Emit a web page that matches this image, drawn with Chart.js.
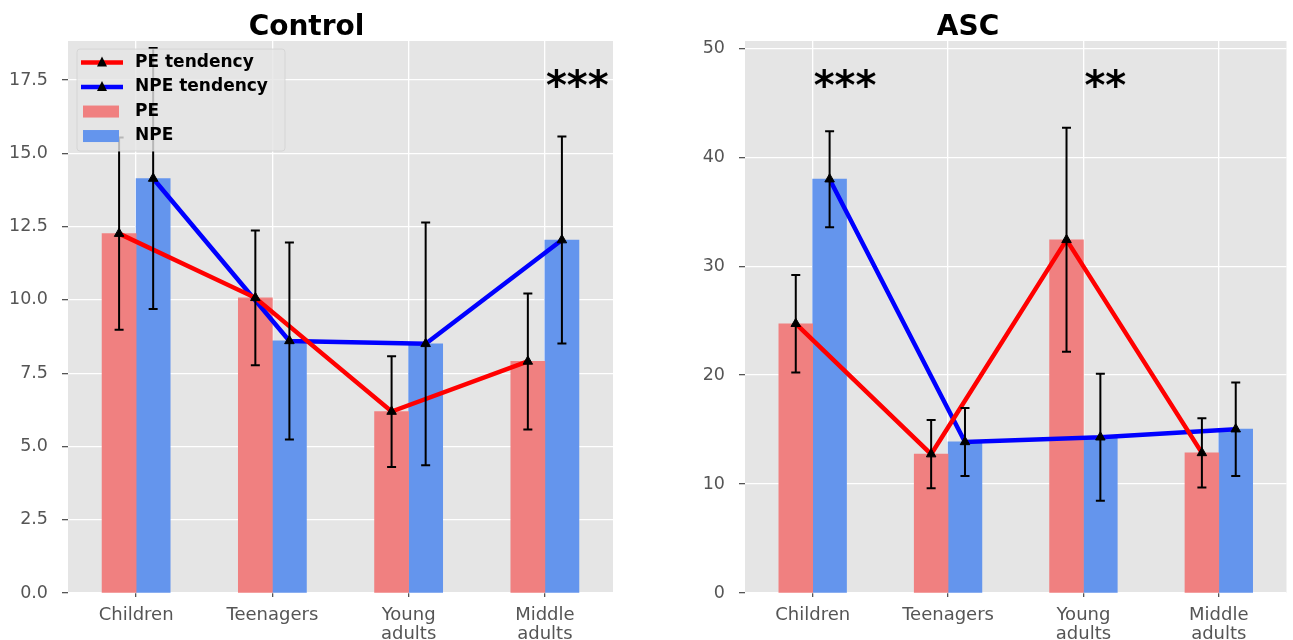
<!DOCTYPE html>
<html>
<head>
<meta charset="utf-8">
<script src="https://cdn.jsdelivr.net/npm/chart.js@4.4.1/dist/chart.umd.min.js"></script>
<style>
    body { margin: 0; background: #fff; }
    #wrap { position: relative; width: 1293px; height: 640px; }
    .box { position: absolute; top: 0; height: 640px; }
</style>
</head>
<body>
<div id="wrap">
    <div class="box" style="left:0;width:646px"><canvas id="controlChart"></canvas></div>
    <div class="box" style="left:646px;width:647px"><canvas id="ascChart"></canvas></div>
</div>
<script>
'use strict';
// =============== data ===============
const groups = ['Children', 'Teenagers', ['Young', 'adults'], ['Middle', 'adults']];

const controlPE = [12.26, 10.07, 6.19, 7.9];
const controlPEErr = [3.28, 2.3, 1.89, 2.32];
const controlNPE = [14.14, 8.6, 8.5, 12.04];
const controlNPEErr = [4.45, 3.36, 4.14, 3.53];

const ascPE = [24.72, 12.75, 32.42, 12.86];
const ascPEErr = [4.48, 3.14, 10.28, 3.18];
const ascNPE = [37.99, 13.87, 14.3, 15.04];
const ascNPEErr = [4.41, 3.12, 5.82, 4.29];

const controlStarGroups = [3];
const controlStarValues = [17.5];
const controlStarTexts = ['***'];
const ascStarGroups = [0, 2];
const ascStarValues = [47.1, 47.1];
const ascStarTexts = ['***', '**'];

Chart.defaults.font.family = 'DejaVu Sans';
Chart.defaults.font.size = 18;
Chart.defaults.color = '#555';

// =============== plugins ===============
const panelBg = {
    id: 'panelBg',
    beforeDraw(chart) {
        const a = chart.chartArea, ctx = chart.ctx;
        ctx.save();
        ctx.fillStyle = '#E5E5E5';
        ctx.fillRect(a.left, a.top, a.right - a.left, a.bottom - a.top);
        ctx.restore();
    }
};

const errorBars = {
    id: 'errorBars',
    afterDatasetsDraw(chart) {
        const ctx = chart.ctx, y = chart.scales.y;
        ctx.save();
        ctx.strokeStyle = '#000';
        ctx.lineWidth = 2;
        chart.data.datasets.forEach((ds, i) => {
            if (!ds.errors) return;
            chart.getDatasetMeta(i).data.forEach((pt, k) => {
                const v = ds.data[k].y, e = ds.errors[k];
                const top = y.getPixelForValue(v + e), bot = y.getPixelForValue(v - e);
                ctx.beginPath();
                ctx.moveTo(pt.x, top); ctx.lineTo(pt.x, bot);
                ctx.moveTo(pt.x - 4.5, top); ctx.lineTo(pt.x + 4.5, top);
                ctx.moveTo(pt.x - 4.5, bot); ctx.lineTo(pt.x + 4.5, bot);
                ctx.stroke();
            });
        });
        ctx.restore();
    }
};

const stars = {
    id: 'stars',
    afterDraw(chart, args, opts) {
        const ctx = chart.ctx;
        ctx.save();
        ctx.fillStyle = '#000';
        ctx.font = 'bold 40px "DejaVu Sans"';
        ctx.textAlign = 'left';
        ctx.textBaseline = 'alphabetic';
        opts.groups.forEach((g, k) => {
            const px = chart.scales.x.getPixelForValue(g);
            const py = chart.scales.y.getPixelForValue(opts.values[k]);
            ctx.fillText(opts.texts[k], px + 1, py + 19);
        });
        ctx.restore();
    }
};

const boxLegend = {
    id: 'boxLegend',
    afterDraw(chart, args, opts) {
        if (!opts.show) return;
        const ctx = chart.ctx, a = chart.chartArea;
        const x0 = a.left + 9, y0 = a.top + 8, w = 208, h = 102;
        ctx.save();
        ctx.beginPath();
        ctx.roundRect(x0, y0, w, h, 3);
        ctx.fillStyle = 'rgba(229,229,229,0.8)';
        ctx.fill();
        ctx.strokeStyle = 'rgba(210,210,210,0.8)';
        ctx.lineWidth = 1;
        ctx.stroke();

        const ds = chart.data.datasets;
        const items = [ds[2], ds[3], ds[0], ds[1]];
        ctx.font = 'bold 17px "DejaVu Sans"';
        ctx.textBaseline = 'middle';
        items.forEach((d, k) => {
            const cy = y0 + 13.5 + k * 24.5;
            if (d.type === 'line') {
                ctx.strokeStyle = d.borderColor;
                ctx.lineWidth = 4.5;
                ctx.beginPath();
                ctx.moveTo(x0 + 4, cy); ctx.lineTo(x0 + 46, cy);
                ctx.stroke();
                ctx.fillStyle = '#000';
                ctx.beginPath();
                ctx.moveTo(x0 + 25, cy - 6);
                ctx.lineTo(x0 + 30, cy + 4);
                ctx.lineTo(x0 + 20, cy + 4);
                ctx.closePath();
                ctx.fill();
            } else {
                ctx.fillStyle = d.backgroundColor;
                ctx.fillRect(x0 + 6, cy - 6, 36, 12);
            }
            ctx.fillStyle = '#000';
            ctx.fillText(d.label, x0 + 58, cy);
        });
        ctx.restore();
    }
};

// =============== chart builder ===============
function makeChart(id, title, pe, peErr, npe, npeErr, yMax, yStep, yWidth, padRight, starOpts, showLegend) {
    const half = 0.125; // half of one bar, in group units
    const at = (vals, shift) => vals.map((v, i) => ({ x: i + shift, y: v }));
    const lineStyle = {
        type: 'line', borderWidth: 4.5, tension: 0,
        pointStyle: 'triangle', pointRadius: 5.5,
        pointBackgroundColor: '#000', pointBorderColor: '#000', pointBorderWidth: 1
    };
    return new Chart(document.getElementById(id), {
        type: 'bar',
        data: {
            datasets: [
                { type: 'bar', label: 'PE', data: at(pe, -half), backgroundColor: '#F08080', borderWidth: 0, order: 3 },
                { type: 'bar', label: 'NPE', data: at(npe, half), backgroundColor: '#6495ED', borderWidth: 0, order: 3 },
                Object.assign({ label: 'PE tendency', data: at(pe, -half), errors: peErr, borderColor: '#FF0000', order: 1 }, lineStyle),
                Object.assign({ label: 'NPE tendency', data: at(npe, half), errors: npeErr, borderColor: '#0000FF', order: 2 }, lineStyle)
            ]
        },
        options: {
            responsive: true,
            maintainAspectRatio: false,
            animation: false,
            layout: { padding: { left: 0, right: padRight, top: 0, bottom: 0 } },
            datasets: { bar: { grouped: false, categoryPercentage: 1.0, barPercentage: 1.0 } },
            plugins: {
                legend: { display: false },
                tooltip: { enabled: false },
                title: {
                    display: true, text: title, color: '#000',
                    font: { size: 28, weight: 'bold', lineHeight: 0.93 },
                    padding: { top: 15, bottom: 0 }
                },
                stars: starOpts,
                boxLegend: { show: showLegend }
            },
            scales: {
                x: {
                    type: 'linear', min: -0.5, max: 3.5, offset: false,
                    grid: { offset: false, color: '#fff', lineWidth: 1.3, tickColor: '#555', tickLength: 4 },
                    border: { display: false },
                    ticks: {
                        color: '#555', maxRotation: 0, autoSkip: false, padding: 9,
                        font: { size: 18, lineHeight: 1.05 },
                        callback: (v) => groups[v]
                    },
                    afterBuildTicks: (s) => { s.ticks = groups.map((g, i) => ({ value: i })); },
                    afterFit: (s) => { s.height = 47; }
                },
                y: {
                    min: 0, max: yMax,
                    grid: { color: '#fff', lineWidth: 1.3, tickColor: '#555', tickLength: 6 },
                    border: { display: false },
                    ticks: {
                        color: '#555', padding: 14,
                        font: { size: 17.5 },
                        callback: (v) => yStep < 5 ? v.toFixed(1) : String(v)
                    },
                    afterBuildTicks: (s) => {
                        const t = [];
                        for (let k = 0; k * yStep <= yMax; k++) t.push({ value: k * yStep });
                        s.ticks = t;
                    },
                    afterFit: (s) => { s.width = yWidth; }
                }
            }
        },
        plugins: [panelBg, errorBars, stars, boxLegend]
    });
}

makeChart('controlChart', 'Control', controlPE, controlPEErr, controlNPE, controlNPEErr,
    18.83, 2.5, 68, 33,
    { groups: controlStarGroups, values: controlStarValues, texts: controlStarTexts }, true);

makeChart('ascChart', 'ASC', ascPE, ascPEErr, ascNPE, ascNPEErr,
    50.67, 10, 99, 3,
    { groups: ascStarGroups, values: ascStarValues, texts: ascStarTexts }, false);
</script>
</body>
</html>
